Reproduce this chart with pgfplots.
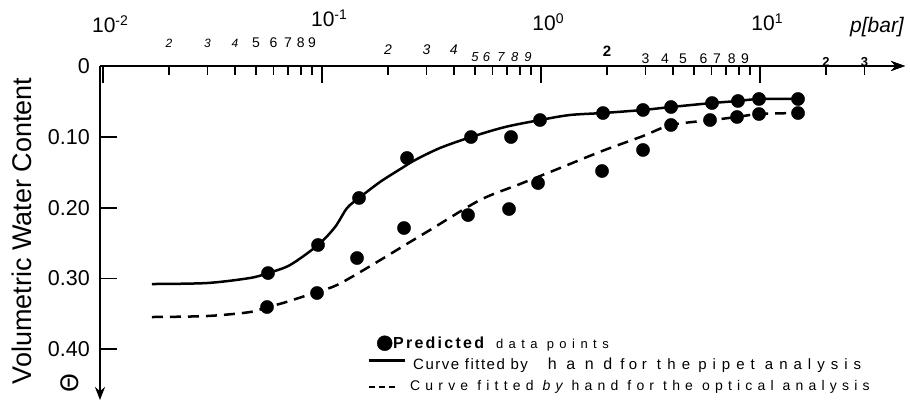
\documentclass[border=0pt]{standalone}
\usepackage{fontspec}
\setmainfont{Liberation Sans}
\usepackage{pgfplots}
\pgfplotsset{compat=1.18}
\usetikzlibrary{arrows.meta}
\newfontfamily\djv{DejaVu Sans}
\newfontfamily\lsA[LetterSpace=10]{Liberation Sans}
\newfontfamily\lsB[LetterSpace=14]{Liberation Sans}
\newfontfamily\lsC[LetterSpace=37]{Liberation Sans}
\newfontfamily\lsD[LetterSpace=42]{Liberation Sans}
\newfontfamily\lsF[LetterSpace=60]{Liberation Sans}
\newfontfamily\lsE[LetterSpace=30]{Liberation Sans}
\newfontfamily\lsG[LetterSpace=40]{Liberation Sans}
\newcommand\mj[2]{\makebox[0pt]{\hspace*{14pt}\raisebox{#2}{\fontsize{21}{21}\selectfont 10\raisebox{7pt}{\fontsize{14}{14}\selectfont #1}}}}
\newcommand\mn[4]{\makebox[0pt]{\hspace*{#3}\raisebox{#2}{#4#1}}}
\newcommand\fa{\fontsize{12}{12}\selectfont\itshape}
\newcommand\fb{\fontsize{14}{14}\selectfont}
\newcommand\fc{\fontsize{14}{14}\selectfont\itshape}
\newcommand\fe{\fontsize{13}{13}\selectfont\itshape}
\newcommand\fd{\fontsize{15}{15}\selectfont\bfseries}
\newcommand\ff{\fontsize{13}{13}\selectfont\bfseries}
\begin{document}
\begin{tikzpicture}
\begin{axis}[
 scale only axis, width=805pt, height=334pt,
 clip=false,
 xmode=log, xmin=0.00969, xmax=45.9,
 ymin=0, ymax=0.4717, y dir=reverse,
 axis x line=top, axis y line=left,
 x axis line style={line width=2pt,-{Stealth[length=14pt,width=10pt]}},
 y axis line style={line width=2pt,-{Stealth[length=13pt,width=10pt]}},
 tick align=inside,
 major tick length=17pt,
 tick style={line width=1.8pt,black},
 xminorticks=false,
 xtick={0.01,0.1,1,10},
 xticklabels={{\mj{-2}{33pt}},{\mj{-1}{39pt}},{\mj{0}{35pt}},{\mj{1}{35pt}}},
 xticklabel style={anchor=base, inner sep=0pt},
 extra x ticks={0.02,0.03,0.04,0.05,0.06,0.07,0.08,0.09,0.2,0.3,0.4,0.5,0.6,0.7,0.8,0.9,2,3,4,5,6,7,8,9,20,30},
 extra x tick labels={
  {\mn{2}{18pt}{0pt}{\fa}},{\mn{3}{18pt}{0pt}{\fa}},{\mn{4}{18pt}{0pt}{\fa}},{\mn{5}{18pt}{0pt}{\fb}},
  {\mn{6}{18pt}{0pt}{\fb}},{\mn{7}{18pt}{0pt}{\fb}},{\mn{8}{18pt}{0pt}{\fb}},{\mn{9}{18pt}{0pt}{\fb}},
  {\mn{2}{11pt}{0pt}{\fc}},{\mn{3}{11pt}{0pt}{\fc}},{\mn{4}{11pt}{0pt}{\fc}},{\mn{5}{4pt}{0pt}{\fe}},
  {\mn{6}{4pt}{-12pt}{\fe}},{\mn{7}{4pt}{-12pt}{\fe}},{\mn{8}{4pt}{-10pt}{\fe}},{\mn{9}{4pt}{-6pt}{\fe}},
  {\mn{2}{9pt}{0pt}{\fd}},{\mn{3}{2pt}{0pt}{\fb}},{\mn{4}{2pt}{-16pt}{\fb}},{\mn{5}{2pt}{-22pt}{\fb}},
  {\mn{6}{2pt}{-16pt}{\fb}},{\mn{7}{2pt}{-18pt}{\fb}},{\mn{8}{2pt}{-14pt}{\fb}},{\mn{9}{2pt}{-10pt}{\fb}},
  {\mn{2}{-1pt}{0pt}{\ff}},{\mn{3}{-1pt}{0pt}{\ff}}},
 extra x tick style={major tick length=9pt},
 ytick={0,0.1,0.2,0.3,0.4},
 yticklabels={0,0.10,0.20,0.30,0.40},
 yticklabel style={anchor=east, inner sep=0pt, xshift=-10pt, font=\fontsize{21.5}{21.5}\selectfont},
 ylabel={Volumetric Water Content},
 ylabel style={at={(axis description cs:-0.0969,0.506)}, anchor=center, font=\fontsize{27}{27}\selectfont},
 xlabel={\itshape p[bar]},
 xlabel style={at={(axis description cs:0.9652,1.0988)}, anchor=base, font=\fontsize{21}{21}\selectfont},
 legend style={at={(axis description cs:0.3317,0.1976)}, anchor=north west, draw=none, fill=none, inner sep=0pt, font=\fontsize{14}{16}\selectfont, row sep=3pt, column sep=7pt, nodes={inner sep=0pt, text height=14pt, text depth=4pt}},
 legend cell align=left,
 reverse legend,
]
\addplot[black, line width=2.5pt, dash pattern=on 11pt off 7pt, smooth, tension=0.5,
 legend image code/.code={\path[draw=none,fill=none] (0pt,-7pt) rectangle (36pt,7pt); \draw[line width=1.8pt, dash pattern=on 6pt off 4pt] (0pt,-2pt) -- (26pt,-2pt);}] table {
x y
0.01674 0.3545
0.02985 0.3531
0.0469 0.3475
0.0561 0.3404
0.06636 0.3347
0.09489 0.3192
0.1171 0.3093
0.1605 0.2853
0.2522 0.2486
0.3113 0.2316
0.5266 0.1893
0.8016 0.1667
1.221 0.1441
1.899 0.1201
2.922 0.0989
3.924 0.0833
6.036 0.0763
7.85 0.0720
9.89 0.0678
14.91 0.0664
};
\addlegendentry{\hspace*{-3pt}{\lsC Curve fitted {\itshape by} hand for the optical analysis}}
\addplot[black, line width=2.5pt, smooth, tension=0.5,
 legend image code/.code={\path[draw=none,fill=none] (0pt,-7pt) rectangle (36pt,7pt); \draw[line width=3pt] (0pt,4pt) -- (36pt,4pt);}] table {
x y
0.01674 0.3079
0.02985 0.3065
0.0469 0.2994
0.0567 0.2924
0.0714 0.2811
0.0959 0.2528
0.1147 0.2274
0.1301 0.2006
0.1476 0.1864
0.1840 0.1638
0.2318 0.1441
0.2660 0.1328
0.3457 0.1158
0.4790 0.1003
0.6847 0.0862
0.9895 0.0763
1.356 0.0692
1.919 0.0664
2.922 0.0621
3.924 0.0579
6.036 0.0523
7.93 0.0494
9.89 0.0466
14.91 0.0466
};
\addlegendentry{{\fontsize{15}{15}\selectfont\lsA Curve fitted by}\hspace{20pt}{\fontsize{16}{16}\selectfont\lsF hand}\hspace{8pt}{\fontsize{15}{15}\selectfont\lsE for}\hspace{10pt}{\fontsize{15}{15}\selectfont\lsD the}\hspace{8pt}{\fontsize{15}{15}\selectfont\lsG pipet analysis}}
\addplot[black, only marks, mark=*, mark size=6.6pt,
 legend image code/.code={\path[draw=none,fill=none] (0pt,-7pt) rectangle (36pt,7pt); \fill (16pt,0pt) circle (7.5pt);}] table {
x y
0.0567 0.2924
0.0959 0.2528
0.1476 0.1864
0.2444 0.1299
0.4790 0.1003
0.7295 0.1003
0.9895 0.0763
1.919 0.0664
2.922 0.0621
3.924 0.0579
6.036 0.0523
7.93 0.0494
9.89 0.0466
14.91 0.0466
0.0561 0.3404
0.0949 0.3206
0.1445 0.2712
0.2368 0.2288
0.4642 0.2105
0.7143 0.2020
0.9690 0.1653
1.899 0.1483
2.922 0.1186
3.924 0.0833
5.910 0.0763
7.85 0.0720
9.89 0.0678
14.91 0.0664
};
\addlegendentry{\hspace*{-20pt}{\fontsize{16}{16}\selectfont\bfseries\lsB Predicted}\hspace{12pt}{\fontsize{13}{13}\selectfont\lsD data points}}
\draw[line width=2pt,-{Stealth[length=14pt,width=10pt]}] (axis cs:25,0) -- (axis cs:45.9,0);
\end{axis}
\node[rotate=90, inner sep=0pt] at (-30pt,17pt) {\djv\fontsize{24}{24}\selectfont Θ};
\pgfresetboundingbox
\path[use as bounding box] (-100pt,-2pt) rectangle (810pt,400pt);
\end{tikzpicture}
\end{document}
